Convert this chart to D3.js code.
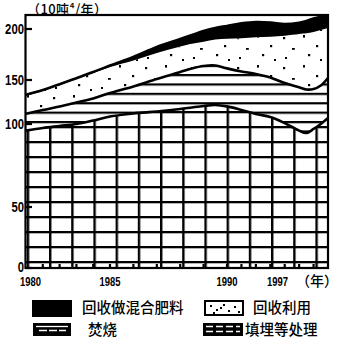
<!DOCTYPE html>
<html><head><meta charset="utf-8">
<script src="https://cdn.jsdelivr.net/npm/d3@7"></script>
<style>html,body{margin:0;padding:0;background:#fff;} svg{display:block;}</style>
</head><body><svg id="chart" width="343" height="340"></svg>
<script>
// Annual waste treatment, stacked by method (unit: 10吨⁴ per year)
const years        = [1980,1981,1982,1983,1984,1985,1986,1987,1988,1988.5,1989,1989.5,1990,1991,1992,1993,1994,1995,1995.5,1996,1996.5,1997];
const landfill     = [96,97.6,98.8,100,104,108.5,112,114.2,117,118.8,120.5,121.6,120,116,111.4,108,101,96,94.6,97,100,106.8];
const incineration = [15.6,18.3,21.1,24.4,25,26.7,30.7,36.8,40.8,42.5,43.2,42.6,41.4,42.4,44.5,44.5,45.5,45.7,44.6,42.8,43.8,45.2];
const recycling    = [20.4,21.6,24.4,26.6,27.9,27.5,26.5,25.5,25,24.2,23.8,25.4,29,32.5,36,40,47,53.5,56.6,57.2,55.2,49];
const compost      = [1.2,1.1,0.9,0.8,0.9,1.5,3.4,5.9,7.4,8.6,10.5,11.4,12.6,14.6,15,13.9,11.3,10.9,12,13.3,12.8,10.8];

const yTickValues = [0,50,100,150,200];
const xTickLabels = [1980,1985,1990,1997];
const unitLabel = "（10吨⁴/年）";
const yearUnit = "（年）";
const legendNames = ["回收做混合肥料","回收利用","焚烧","填埋等处理"];

const CJK = "'Noto Sans CJK SC','Noto Sans CJK JP',sans-serif";
const NUM = "'Liberation Sans',Arial,sans-serif";

const svg = d3.select("#chart");

// hand-drawn axes: piecewise linear scales
const x = d3.scaleLinear().domain([1980,1985,1990,1997]).range([26,110,227,328]);
const y = d3.scaleLinear().domain([0,50,100,150,200]).range([268,207,124,80,29]);
const plotTop = 15;

const defs = svg.append("defs");
// horizontal hatching for incineration
const hatch = defs.append("pattern").attr("id","hatch").attr("patternUnits","userSpaceOnUse")
  .attr("width",40).attr("height",9.4).attr("y",74);
hatch.append("rect").attr("x",0).attr("y",0).attr("width",40).attr("height",2.2).attr("fill","#000");
// grid for landfill
const grid = defs.append("pattern").attr("id","grid").attr("patternUnits","userSpaceOnUse")
  .attr("width",22.2).attr("height",15).attr("x",4.6).attr("y",126);
grid.append("rect").attr("x",0).attr("y",0).attr("width",2.4).attr("height",15).attr("fill","#000");
grid.append("rect").attr("x",0).attr("y",0).attr("width",22.2).attr("height",2.3).attr("fill","#000");
// scattered dots for recycling
const dots = defs.append("pattern").attr("id","dots").attr("patternUnits","userSpaceOnUse")
  .attr("width",46).attr("height",30).attr("x",3).attr("y",2);
dots.append("rect").attr("width",46).attr("height",30).attr("fill","#fff");
[[4,5,2.2,2.2],[24,3,2,2.6],[37,13,2.2,2.2],[13,16,2.8,1.8],[29,22,2.2,2.2],[6,25,2,2],[41,27,2,2]]
  .forEach(([dx,dy,w,h]) => dots.append("rect").attr("x",dx).attr("y",dy).attr("width",w).attr("height",h).attr("fill","#000"));

const table = years.map((yr,i) => ({year:yr, landfill:landfill[i], incineration:incineration[i], recycling:recycling[i], compost:compost[i]}));
const keys = ["landfill","incineration","recycling","compost"];
const fills = {landfill:"url(#grid)", incineration:"url(#hatch)", recycling:"url(#dots)", compost:"#000"};
const layers = d3.stack().keys(keys)(table);

const curve = d3.curveCatmullRom.alpha(0.5);
const area = d3.area().x(d => x(d.data.year)).y0(d => y(d[0])).y1(d => y(d[1])).curve(curve);
const topLine = d3.line().x(d => x(d.data.year)).y(d => y(d[1])).curve(curve);

svg.append("g").selectAll("path").data(layers).join("path")
  .attr("d", area).attr("fill", d => fills[d.key]);

svg.append("g").selectAll("path").data(layers.filter(l => l.key !== "recycling")).join("path")
  .attr("d", topLine).attr("fill","none").attr("stroke","#000")
  .attr("stroke-width", 2.6).attr("stroke-linejoin","round");

// frame
svg.append("rect").attr("x", x(1980)-0.5).attr("y", plotTop)
  .attr("width", x(1997)-x(1980)+0.5).attr("height", y(0)-plotTop)
  .attr("fill","none").attr("stroke","#000").attr("stroke-width",2.2);

// y axis ticks and labels
const yAxis = svg.append("g");
yAxis.selectAll("line").data(yTickValues).join("line")
  .attr("x1", x(1980)).attr("x2", x(1980)+6).attr("y1", d => y(d)).attr("y2", d => y(d))
  .attr("stroke","#000").attr("stroke-width",2.2);
yAxis.selectAll("text").data(yTickValues).join("text")
  .attr("x", x(1980)-2).attr("y", d => y(d) + (d === 0 ? 4 : 5)).attr("text-anchor","end")
  .attr("font-family", NUM).attr("font-size", 14.5).attr("font-weight", "bold")
  .attr("textLength", d => String(d).length*6.3).attr("lengthAdjust","spacingAndGlyphs")
  .text(d => d);

// annual ticks along the bottom
svg.append("g").selectAll("line").data(d3.range(1981,1997)).join("line")
  .attr("x1", d => x(d)).attr("x2", d => x(d)).attr("y1", y(0)).attr("y2", y(0)-4)
  .attr("stroke","#000").attr("stroke-width",2.2);

// x labels; the last one carries the year unit and is right-aligned to the frame
const xAxis = svg.append("g").attr("font-family", NUM).attr("font-size", 13.5).attr("font-weight", "bold");
xTickLabels.forEach((yr, i) => {
  const last = i === xTickLabels.length - 1;
  xAxis.append("text")
    .attr("x", i === 0 ? x(yr)-6 : last ? x(yr)-40 : x(yr))
    .attr("y", 286)
    .attr("text-anchor", i === 0 ? "start" : last ? "end" : "middle")
    .attr("textLength", 21).attr("lengthAdjust","spacingAndGlyphs").text(yr);
});
svg.append("text").attr("x", x(1997)+10).attr("y", 286).attr("text-anchor","end")
  .attr("font-family", CJK).attr("font-size", 14).attr("font-weight", 500).text(yearUnit);

// unit
svg.append("text").attr("x", 27).attr("y", 14).attr("font-family", CJK).attr("font-size", 13)
  .attr("font-weight", 500).attr("textLength", 80).attr("lengthAdjust","spacing")
  .text(unitLabel);

// legend
const lg = svg.append("g");
const legendItems = [
  {name: legendNames[0], sx: 32, sy: 300, tx: 82, ty: 313, kind: "compost"},
  {name: legendNames[1], sx: 204, sy: 300, tx: 253, ty: 313, kind: "recycling"},
  {name: legendNames[2], sx: 33, sy: 323, tx: 88, ty: 335, kind: "incineration"},
  {name: legendNames[3], sx: 203, sy: 323, tx: 245, ty: 335, kind: "landfill"}
];
legendItems.forEach(it => {
  const g = lg.append("g");
  if (it.kind === "compost") {
    g.append("rect").attr("x", it.sx).attr("y", it.sy).attr("width", 40).attr("height", 17).attr("fill","#000");
  } else if (it.kind === "recycling") {
    g.append("rect").attr("x", it.sx+1).attr("y", it.sy+1).attr("width", 38).attr("height", 14)
      .attr("fill","#fff").attr("stroke","#000").attr("stroke-width",2);
    [[6,5],[12,9],[19,4],[24,10],[30,6],[34,11],[9,12],[16,7]].forEach(([dx,dy]) =>
      g.append("rect").attr("x", it.sx+dx).attr("y", it.sy+dy).attr("width",2).attr("height",2).attr("fill","#000"));
  } else if (it.kind === "incineration") {
    g.append("rect").attr("x", it.sx).attr("y", it.sy).attr("width", 38).attr("height", 13).attr("fill","#000");
    g.append("line").attr("x1", it.sx+3).attr("x2", it.sx+35).attr("y1", it.sy+3.5).attr("y2", it.sy+3.5)
      .attr("stroke","#fff").attr("stroke-width",1.3);
    g.append("line").attr("x1", it.sx+6).attr("x2", it.sx+33).attr("y1", it.sy+7.5).attr("y2", it.sy+7.5)
      .attr("stroke","#fff").attr("stroke-width",1.3).attr("stroke-dasharray","8 2");
  } else {
    g.append("rect").attr("x", it.sx).attr("y", it.sy).attr("width", 40).attr("height", 13).attr("fill","#000");
    [3.5, 8.5].forEach(dy =>
      g.append("line").attr("x1", it.sx+3).attr("x2", it.sx+37).attr("y1", it.sy+dy).attr("y2", it.sy+dy)
        .attr("stroke","#fff").attr("stroke-width",1.3).attr("stroke-dasharray","7 3"));
  }
  g.append("text").attr("x", it.tx).attr("y", it.ty).attr("font-family", CJK)
    .attr("font-size", 14.5).attr("font-weight", 500).text(it.name);
});
</script></body></html>
